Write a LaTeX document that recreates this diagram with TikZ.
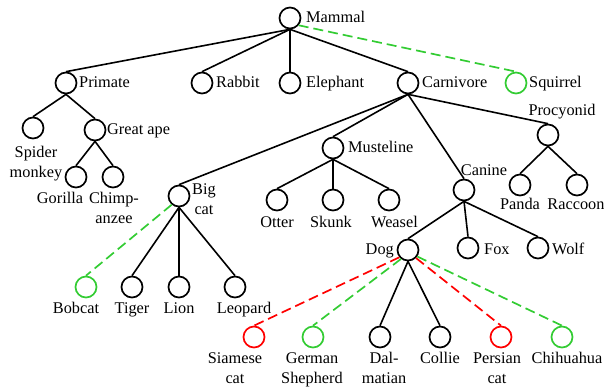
\documentclass[tikz,border=0pt]{standalone}
\usepackage{fontspec}
\setmainfont{Liberation Serif}
\definecolor{grn}{RGB}{51,204,51}
\definecolor{rd}{RGB}{255,0,0}
\begin{document}
\begin{tikzpicture}[x=1pt,y=-1pt,
  nd/.style={circle,draw,line width=1.7pt,minimum size=21pt,inner sep=0pt,fill=white},
  gnd/.style={nd,draw=grn},
  rnd/.style={nd,draw=rd},
  edge/.style={line width=1.6pt},
  gdash/.style={line width=1.7pt,draw=grn,dash pattern=on 10pt off 5pt},
  rdash/.style={line width=1.7pt,draw=rd,dash pattern=on 10pt off 5pt},
  lbl/.style={inner sep=0pt,font=\fontsize{16.3}{20}\selectfont},
  mlbl/.style={lbl,align=center,anchor=base}]
\useasboundingbox (0,0) rectangle (604,388);
% nodes
\node[nd] (mammal) at (290,18) {};
\node[nd] (primate) at (66,83) {};
\node[nd] (rabbit) at (202,83) {};
\node[nd] (elephant) at (290,83) {};
\node[nd] (carnivore) at (408,83) {};
\node[gnd] (squirrel) at (516,83) {};
\node[nd] (spider) at (33,128) {};
\node[nd] (greatape) at (95,130) {};
\node[nd] (gorilla) at (76,177) {};
\node[nd] (chimp) at (113,177) {};
\node[nd] (bigcat) at (179,196) {};
\node[nd] (musteline) at (333,148) {};
\node[nd] (canine) at (464,190) {};
\node[nd] (procyonid) at (548,135) {};
\node[nd] (otter) at (277,200) {};
\node[nd] (skunk) at (333,200) {};
\node[nd] (weasel) at (389,200) {};
\node[nd] (panda) at (520,185) {};
\node[nd] (raccoon) at (577,185) {};
\node[nd] (dog) at (408,250) {};
\node[nd] (fox) at (468,248) {};
\node[nd] (wolf) at (538,248) {};
\node[gnd] (bobcat) at (86,287) {};
\node[nd] (tiger) at (132,287) {};
\node[nd] (lion) at (179,287) {};
\node[nd] (leopard) at (235,287) {};
\node[rnd] (siamese) at (254,337) {};
\node[gnd] (german) at (313,337) {};
\node[nd] (dalmatian) at (380,337) {};
\node[nd] (collie) at (440,337) {};
\node[rnd] (persian) at (501,337) {};
\node[gnd] (chihuahua) at (562,337) {};
% edges
\foreach \p/\c in {mammal/primate,mammal/rabbit,mammal/elephant,mammal/carnivore,
  primate/spider,primate/greatape,greatape/gorilla,greatape/chimp,
  carnivore/bigcat,carnivore/musteline,carnivore/canine,carnivore/procyonid,
  bigcat/tiger,bigcat/lion,bigcat/leopard,
  musteline/otter,musteline/skunk,musteline/weasel,
  procyonid/panda,procyonid/raccoon,
  canine/dog,canine/fox,canine/wolf,
  dog/dalmatian,dog/collie}
  \draw[edge] (\p.south) -- (\c.north);
\draw[gdash] (mammal.-40) -- (squirrel.north);
\draw[gdash] (bigcat.-130) -- (bobcat.north);
\draw[rdash] (dog.-140) -- (siamese.north);
\draw[gdash] (dog.-128) -- (german.north);
\draw[rdash] (dog.-45) -- (persian.north);
\draw[gdash] (dog.-35) -- (chihuahua.north);
% labels
\node[lbl,anchor=base west] (lmammal) at (306,22) {Mammal};
\node[lbl,anchor=base west] (lprimate) at (79,87) {Primate};
\node[lbl,anchor=base west] (lrabbit) at (216,87) {Rabbit};
\node[lbl,anchor=base west] (lelephant) at (306,87) {Elephant};
\node[lbl,anchor=base west] (lcarnivore) at (422,87) {Carnivore};
\node[lbl,anchor=base west] (lsquirrel) at (529,87) {Squirrel};
\node[lbl,anchor=base west] (lgreatape) at (107,134.5) {Great ape};
\node[lbl,anchor=base west] (lmusteline) at (348,152.5) {Musteline};
\node[lbl,anchor=base west] (lfox) at (484,254) {Fox};
\node[lbl,anchor=base west] (lwolf) at (552,254) {Wolf};
\node[lbl,anchor=base east] (ldog) at (394,254) {Dog};
\node[mlbl] (lbigcat) at (204,214) {Big\\cat};
\node[mlbl] (lspider) at (36,177) {Spider\\monkey};
\node[lbl,anchor=base] (lgorilla) at (60,203) {Gorilla};
\node[mlbl] (lchimp) at (114,223) {Chimp-\\anzee};
\node[lbl,anchor=base] (lotter) at (277,227) {Otter};
\node[lbl,anchor=base] (lskunk) at (331,227) {Skunk};
\node[lbl,anchor=base] (lweasel) at (394.5,227) {Weasel};
\node[lbl,anchor=base] (lpanda) at (520,209) {Panda};
\node[lbl,anchor=base] (lraccoon) at (576,209) {Raccoon};
\node[lbl,anchor=base] (lcanine) at (484,175) {Canine};
\node[lbl,anchor=base] (lprocyonid) at (562,115) {Procyonid};
\node[lbl,anchor=base] (lbobcat) at (76,313) {Bobcat};
\node[lbl,anchor=base] (ltiger) at (132,313) {Tiger};
\node[lbl,anchor=base] (llion) at (179,313) {Lion};
\node[lbl,anchor=base] (lleopard) at (244,313) {Leopard};
\node[mlbl] (lsiamese) at (235,383) {Siamese\\cat};
\node[mlbl] (lgerman) at (312,383) {German\\Shepherd};
\node[mlbl] (ldalmatian) at (384,383) {Dal-\\matian};
\node[lbl,anchor=base] (lcollie) at (440,363) {Collie};
\node[mlbl] (lpersian) at (497,383) {Persian\\cat};
\node[lbl,anchor=base] (lchihuahua) at (567,363) {Chihuahua};
\end{tikzpicture}
\end{document}
